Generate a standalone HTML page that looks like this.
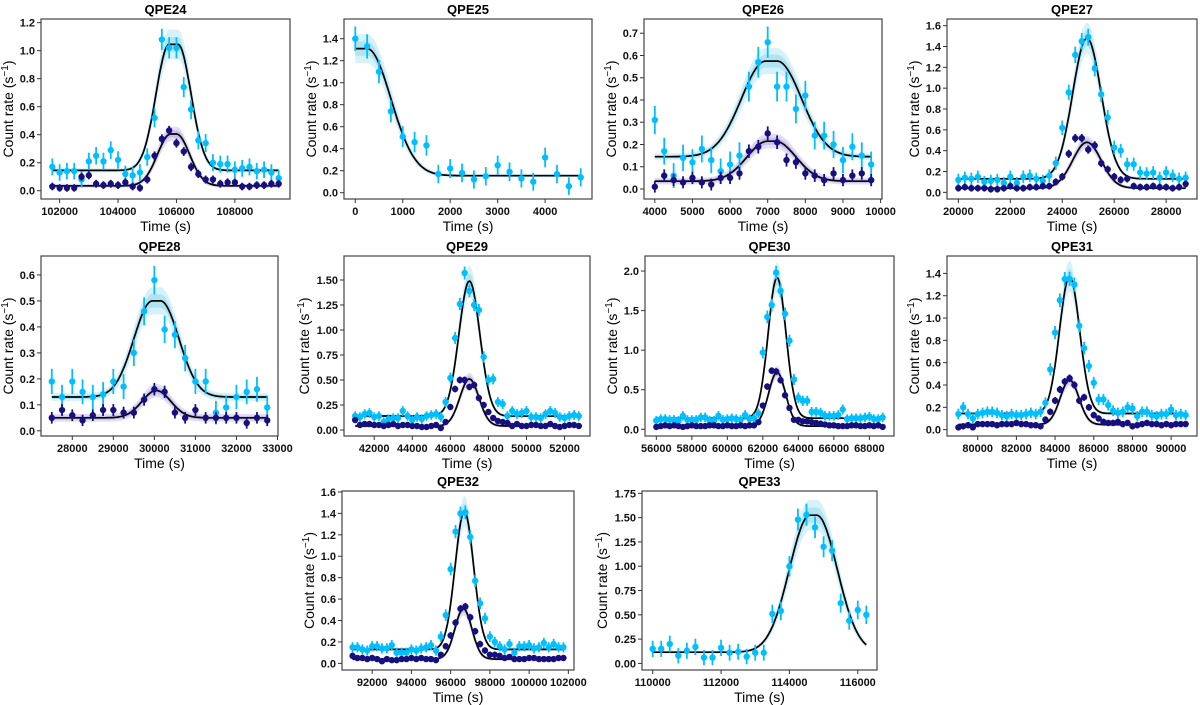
<!DOCTYPE html>
<html><head><meta charset="utf-8">
<style>
html,body{margin:0;padding:0;background:#fff;}
svg{display:block;font-family:"Liberation Sans","DejaVu Sans",sans-serif;}
</style></head>
<body>
<svg id="fig" width="1200" height="705" viewBox="0 0 1200 705" xmlns="http://www.w3.org/2000/svg"></svg>
<script>
// ---------- data (count rates, s^-1) ----------
const qpe24_t=[101750,250];
const qpe24_cyan=[.17,.13,.14,.14,.08,.21,.25,.21,.29,.22,.12,.11,.13,.24,.52,1.08,1.02,1.02,.74,.58,.36,.34,.20,.19,.19,.15,.16,.17,.14,.15,.13,.09];
const qpe24_navy=[.03,.02,.02,.02,.10,.11,.05,.04,.05,.04,.06,.03,.02,.08,.25,.37,.43,.34,.28,.17,.12,.08,.08,.05,.06,.06,.03,.03,.04,.04,.05,.05];
const qpe24_fitC=[.145,.9,105900,450,150];
const qpe24_fitN=[.035,.37,105900,450,100];

const qpe25_t=[0,250];
const qpe25_cyan=[1.40,1.33,1.10,.74,.51,.46,.43,.17,.22,.18,.12,.15,.25,.19,.13,.10,.32,.17,.06,.14];
const qpe25_fitC=[.155,1.155,125,500,125];

const qpe26_t=[4000,250];
const qpe26_cyan=[.31,.17,.06,.14,.12,.18,.13,.08,.11,.15,.46,.57,.66,.46,.46,.36,.42,.24,.24,.20,.13,.19,.15,.11];
const qpe26_navy=[.01,.06,.04,.03,.05,.03,.02,.05,.05,.07,.17,.19,.25,.21,.13,.12,.07,.06,.04,.07,.04,.06,.07,.04];
const qpe26_fitC=[.145,.43,7100,650,150];
const qpe26_fitN=[.035,.18,7100,550,100];

const qpe27_t=[20000,250];
const qpe27_cyan=[.12,.14,.13,.15,.10,.11,.12,.09,.15,.09,.15,.16,.13,.11,.16,.28,.62,.96,1.32,1.45,1.49,1.19,.94,.72,.43,.40,.27,.27,.19,.18,.19,.14,.19,.16,.13,.14];
const qpe27_navy=[.04,.05,.04,.04,.04,.03,.03,.04,.06,.04,.04,.05,.05,.06,.06,.10,.15,.37,.52,.52,.41,.45,.28,.22,.15,.12,.13,.06,.05,.05,.06,.05,.05,.04,.05,.08];
const qpe27_fitC=[.13,1.35,24950,550,0];
const qpe27_fitN=[.04,.44,24950,550,0];

const qpe28_t=[27500,250];
const qpe28_cyan=[.19,.13,.19,.15,.13,.14,.19,.17,.30,.46,.58,.39,.37,.28,.19,.19,.07,.09,.13,.15,.16,.09];
const qpe28_navy=[.05,.08,.06,.04,.06,.08,.08,.07,.07,.12,.16,.15,.07,.05,.08,.05,.05,.05,.05,.03,.05,.04];
const qpe28_fitC=[.13,.37,30050,450,100];
const qpe28_fitN=[.05,.105,30050,350,0];

const qpe29_t=[41000,250];
const qpe29_cyan=[.14,.13,.16,.17,.13,.14,.08,.11,.12,.12,.19,.14,.10,.13,.11,.14,.15,.16,.13,.28,.52,.92,1.26,1.57,1.39,1.25,1.20,.73,.50,.51,.28,.26,.14,.19,.16,.17,.19,.13,.13,.12,.16,.19,.17,.13,.12,.14,.15,.14];
const qpe29_navy=[.10,.05,.06,.06,.05,.05,.04,.05,.06,.04,.05,.05,.04,.04,.03,.03,.04,.05,.02,.08,.23,.41,.50,.50,.43,.45,.32,.25,.18,.12,.09,.08,.07,.04,.06,.04,.04,.05,.05,.04,.04,.06,.04,.03,.04,.05,.05,.04];
const qpe29_fitC=[.14,1.35,47000,550,0];
const qpe29_fitN=[.04,.47,47000,500,0];

const qpe30_t=[56000,250];
const qpe30_cyan=[.11,.13,.13,.12,.12,.11,.17,.12,.12,.12,.15,.15,.11,.11,.17,.12,.13,.14,.13,.12,.18,.13,.14,.20,.97,1.42,1.57,1.98,1.75,1.46,1.12,.63,.40,.36,.36,.22,.22,.21,.17,.17,.17,.18,.25,.13,.14,.14,.14,.15,.16,.13,.13,.15];
const qpe30_navy=[.03,.04,.05,.04,.05,.04,.03,.04,.05,.04,.04,.04,.05,.05,.04,.04,.05,.04,.04,.05,.04,.05,.05,.09,.30,.54,.74,.73,.62,.43,.27,.12,.12,.10,.10,.09,.08,.07,.06,.05,.05,.04,.04,.04,.05,.05,.04,.04,.05,.04,.05,.03];
const qpe30_fitC=[.14,1.78,62800,500,0];
const qpe30_fitN=[.04,.68,62800,480,0];

const qpe31_t=[79000,250];
const qpe31_cyan=[.14,.20,.14,.10,.14,.15,.16,.16,.15,.13,.12,.14,.13,.13,.14,.15,.14,.16,.24,.54,.87,1.16,1.35,1.35,1.30,.93,.73,.57,.42,.27,.27,.22,.17,.15,.16,.20,.19,.12,.16,.16,.13,.12,.14,.14,.18,.13,.14,.13];
const qpe31_navy=[.02,.03,.04,.02,.05,.05,.05,.05,.04,.05,.05,.05,.06,.05,.05,.04,.04,.03,.09,.16,.26,.36,.43,.46,.40,.26,.29,.20,.13,.10,.07,.06,.06,.07,.05,.06,.03,.04,.05,.06,.05,.05,.04,.05,.04,.05,.05,.05];
const qpe31_fitC=[.145,1.23,84750,520,0];
const qpe31_fitN=[.045,.40,84750,480,0];

const qpe32_t=[91000,250];
const qpe32_cyan=[.15,.15,.13,.12,.16,.16,.14,.14,.17,.10,.10,.10,.13,.12,.14,.15,.17,.12,.25,.45,.88,1.23,1.40,1.41,1.18,.77,.56,.42,.25,.20,.16,.13,.18,.10,.16,.16,.17,.14,.15,.19,.15,.18,.15,.15];
const qpe32_navy=[.07,.05,.05,.04,.05,.04,.02,.04,.03,.03,.04,.04,.05,.04,.05,.04,.04,.03,.08,.16,.26,.38,.51,.53,.43,.30,.18,.12,.08,.08,.07,.05,.06,.04,.04,.04,.05,.05,.04,.04,.04,.04,.05,.05];
const qpe32_fitC=[.13,1.29,96700,470,0];
const qpe32_fitN=[.04,.47,96650,430,0];

const qpe33_t=[110000,250];
const qpe33_cyan=[.15,.15,.20,.08,.13,.17,.06,.06,.16,.11,.12,.07,.11,.11,.51,.54,1.00,1.48,1.53,1.40,1.20,1.16,.62,.44,.55,.50];
const qpe33_fitC=[.115,1.41,114700,600,100];

// x tick labels / y tick labels
const xt24=[102000,104000,106000,108000], yt24=[0,.2,.4,.6,.8,1.0,1.2];
const xt25=[0,1000,2000,3000,4000], yt25=[0,.2,.4,.6,.8,1.0,1.2,1.4];
const xt26=[4000,5000,6000,7000,8000,9000,10000], yt26=[0,.1,.2,.3,.4,.5,.6,.7];
const xt27=[20000,22000,24000,26000,28000], yt27=[0,.2,.4,.6,.8,1.0,1.2,1.4,1.6];
const xt28=[28000,29000,30000,31000,32000,33000], yt28=[0,.1,.2,.3,.4,.5,.6];
const xt29=[42000,44000,46000,48000,50000,52000], yt29=[0,.25,.5,.75,1.0,1.25,1.5];
const xt30=[56000,58000,60000,62000,64000,66000,68000], yt30=[0,.5,1.0,1.5,2.0];
const xt31=[80000,82000,84000,86000,88000,90000], yt31=[0,.2,.4,.6,.8,1.0,1.2,1.4];
const xt32=[92000,94000,96000,98000,100000,102000], yt32=[0,.2,.4,.6,.8,1.0,1.2,1.4,1.6];
const xt33=[110000,112000,114000,116000], yt33=[0,.25,.5,.75,1.0,1.25,1.5,1.75];

// ---------- layout ----------
const panels=[
 {name:'qpe24',title:'QPE24',box:[41,290,19,199],ylim:[-0.059,1.226],t:qpe24_t,c:qpe24_cyan,n:qpe24_navy,fc:qpe24_fitC,fn:qpe24_fitN,ec:.05,en:.025,xt:xt24,yt:yt24,yd:1},
 {name:'qpe25',title:'QPE25',box:[344,592,19,199],ylim:[-0.057,1.579],t:qpe25_t,c:qpe25_cyan,n:null,fc:qpe25_fitC,fn:null,ec:.07,en:0,xt:xt25,yt:yt25,yd:1},
 {name:'qpe26',title:'QPE26',box:[644,882,19,199],ylim:[-0.045,0.764],t:qpe26_t,c:qpe26_cyan,n:qpe26_navy,fc:qpe26_fitC,fn:qpe26_fitN,ec:.05,en:.025,xt:xt26,yt:yt26,yd:1},
 {name:'qpe27',title:'QPE27',box:[947,1197,19,199],ylim:[-0.064,1.664],t:qpe27_t,c:qpe27_cyan,n:qpe27_navy,fc:qpe27_fitC,fn:qpe27_fitN,ec:.05,en:.03,xt:xt27,yt:yt27,yd:1},
 {name:'qpe28',title:'QPE28',box:[41,278,256,436],ylim:[-0.02,0.673],t:qpe28_t,c:qpe28_cyan,n:qpe28_navy,fc:qpe28_fitC,fn:qpe28_fitN,ec:.04,en:.02,xt:xt28,yt:yt28,yd:1},
 {name:'qpe29',title:'QPE29',box:[344,590,256,436],ylim:[-0.06,1.74],t:qpe29_t,c:qpe29_cyan,n:qpe29_navy,fc:qpe29_fitC,fn:qpe29_fitN,ec:.04,en:.025,xt:xt29,yt:yt29,yd:2},
 {name:'qpe30',title:'QPE30',box:[645,894,256,436],ylim:[-0.085,2.19],t:qpe30_t,c:qpe30_cyan,n:qpe30_navy,fc:qpe30_fitC,fn:qpe30_fitN,ec:.05,en:.03,xt:xt30,yt:yt30,yd:1},
 {name:'qpe31',title:'QPE31',box:[947,1197,256,436],ylim:[-0.057,1.556],t:qpe31_t,c:qpe31_cyan,n:qpe31_navy,fc:qpe31_fitC,fn:qpe31_fitN,ec:.04,en:.025,xt:xt31,yt:yt31,yd:1},
 {name:'qpe32',title:'QPE32',box:[342,574,491,670],ylim:[-0.062,1.609],t:qpe32_t,c:qpe32_cyan,n:qpe32_navy,fc:qpe32_fitC,fn:qpe32_fitN,ec:.04,en:.025,xt:xt32,yt:yt32,yd:1},
 {name:'qpe33',title:'QPE33',box:[642,877,491,670],ylim:[-0.068,1.774],t:qpe33_t,c:qpe33_cyan,n:null,fc:qpe33_fitC,fn:null,ec:.07,en:0,xt:xt33,yt:yt33,yd:2}
];

const NS='http://www.w3.org/2000/svg';
const svg=document.getElementById('fig');
function mk(tag,attrs,parent){const e=document.createElementNS(NS,tag);for(const k in attrs)e.setAttribute(k,attrs[k]);(parent||svg).appendChild(e);return e;}
function model(f,t){const d=Math.max(0,Math.abs(t-f[2])-f[4]);const g=Math.exp(-d*d/(2*f[3]*f[3]));return {v:f[0]+f[1]*g,g:g};}

panels.forEach((p,pi)=>{
  const [x0,x1,y0,y1]=p.box;
  const g=mk('g',{});
  
  
  const N=p.c.length;
  const times=p.c.map((_,i)=>p.t[0]+i*p.t[1]);
  const tmin=times[0], tmax=times[N-1], m=(tmax-tmin)*0.05;
  const xmin=tmin-m, xmax=tmax+m;
  const X=t=>x0+(t-xmin)/(xmax-xmin)*(x1-x0);
  const Y=v=>y1-(v-p.ylim[0])/(p.ylim[1]-p.ylim[0])*(y1-y0);
  const cid='clip'+pi;
  const cp=mk('clipPath',{id:cid},g);mk('rect',{x:x0,y:y0,width:x1-x0,height:y1-y0},cp);
  const plot=mk('g',{'clip-path':'url(#'+cid+')'},g);
  const series=[{f:p.fc,band:'#5cc8e6',name:'cyan'}];
  if(p.fn) series.push({f:p.fn,band:'#8a78d8',name:'navy'});
  series.forEach(s=>{
    const ts=[];for(let i=0;i<=160;i++)ts.push(tmin+(tmax-tmin)*i/160);
    [[1.0,0.25],[0.5,0.3]].forEach(([k,op])=>{
      const up=[],dn=[];
      ts.forEach(t=>{const r=model(s.f,t);const hw=k*(0.015+0.12*s.f[1]*r.g*(1-0.5*r.g)+0.04*s.f[1]*r.g);up.push(X(t).toFixed(1)+','+Y(r.v+hw).toFixed(1));dn.unshift(X(t).toFixed(1)+','+Y(r.v-hw).toFixed(1));});
      const b=mk('polygon',{points:up.concat(dn).join(' '),fill:s.band,'fill-opacity':op,stroke:'none'},plot);
      
      
    });
  });
  series.forEach(s=>{
    const ts=[];for(let i=0;i<=160;i++)ts.push(tmin+(tmax-tmin)*i/160);
    const pts=ts.map(t=>X(t).toFixed(1)+','+Y(model(s.f,t).v).toFixed(1)).join(' ');
    const l=mk('polyline',{points:pts,fill:'none',stroke:'#000','stroke-width':1.7},plot);
    
    
  });
  const ds=[{v:p.c,col:'#00bfff',e:p.ec,name:'cyan'}];
  if(p.n) ds.push({v:p.n,col:'#16107f',e:p.en,name:'navy'});
  ds.forEach(d=>{
    d.v.forEach((v,i)=>{
      const t=times[i];const err=d.e*(1+0.5*Math.sqrt(Math.max(v,0)));
      const el=mk('line',{x1:X(t),x2:X(t),y1:Y(v-err),y2:Y(v+err),stroke:d.col,'stroke-width':1.8},plot);
      
      
      const c=mk('circle',{cx:X(t),cy:Y(v),r:3.2,fill:d.col},plot);
      
      
    });
  });
  const fr=mk('rect',{x:x0,y:y0,width:x1-x0,height:y1-y0,fill:'none',stroke:'#444','stroke-width':1.2},g);
  
  
  p.xt.forEach(t=>{
    const x=X(t);
    mk('line',{x1:x,x2:x,y1:y1,y2:y1+4,stroke:'#333','stroke-width':1},g);
    const tx=mk('text',{x:x,y:y1+16,'font-size':11,'font-weight':'bold','text-anchor':'middle',fill:'#111'},g);
    tx.textContent=String(t);
    
    
  });
  p.yt.forEach(v=>{
    const y=Y(v);
    mk('line',{x1:x0-4,x2:x0,y1:y,y2:y,stroke:'#333','stroke-width':1},g);
    const ty=mk('text',{x:x0-6,y:y+4,'font-size':11,'font-weight':'bold','text-anchor':'end',fill:'#111'},g);
    ty.textContent=v.toFixed(p.yd);
    
    
  });
  const ti=mk('text',{x:(x0+x1)/2,y:y0-5,'font-size':13,'text-anchor':'middle','font-weight':'bold',fill:'#000'},g);
  ti.textContent=p.title;
  
  
  const xl=mk('text',{x:(x0+x1)/2,y:y1+32,'font-size':14,'text-anchor':'middle',fill:'#000'},g);
  xl.textContent='Time (s)';
  
  
  const yx=x0-(p.yd===2?35:28), yy=(y0+y1)/2;
  const yl=mk('text',{x:yx,y:yy,'font-size':14,'text-anchor':'middle',fill:'#000',transform:'rotate(-90 '+yx+' '+yy+')'},g);
  yl.textContent='Count rate (s';
  const sup=mk('tspan',{'font-size':10,dy:-5},yl);sup.textContent='\u22121';
  const cl=mk('tspan',{'font-size':14,dy:5},yl);cl.textContent=')';
  
  
});
</script>
</body></html>
